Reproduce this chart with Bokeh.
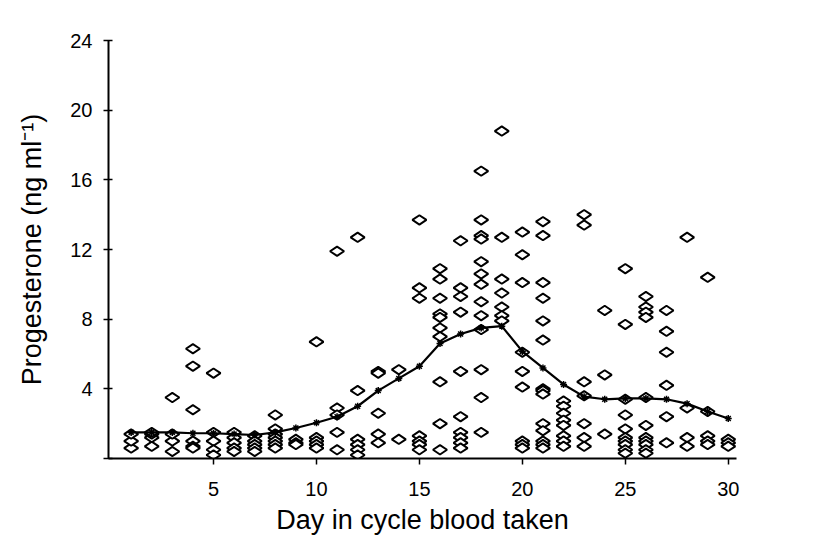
import math
from bokeh.plotting import figure
from bokeh.models import FixedTicker, Range1d
from bokeh.embed import file_html
from bokeh.resources import INLINE

# individual samples: day -> progesterone values (ng/ml)
day_values = {
    1: [0.6, 1.0, 1.4],
    2: [0.7, 1.2, 1.4, 1.5],
    3: [3.5, 1.0, 0.4, 1.4],
    4: [6.3, 5.3, 2.8, 1.0, 0.7, 0.6],
    5: [4.9, 1.5, 1.0, 0.5, 0.2],
    6: [1.5, 1.2, 0.9, 0.6, 0.4],
    7: [1.3, 1.0, 0.8, 0.6, 0.4],
    8: [2.5, 1.7, 1.4, 1.2, 1.0, 0.8, 0.6],
    9: [1.1, 0.9, 0.8],
    10: [6.7, 1.2, 1.0, 0.8, 0.6],
    11: [11.9, 2.9, 2.5, 1.5, 0.5],
    12: [12.7, 3.9, 1.1, 0.8, 0.5, 0.2],
    13: [5.0, 4.9, 2.6, 1.4, 0.9],
    14: [5.1, 1.1],
    15: [13.7, 9.8, 9.2, 1.3, 1.0, 0.8, 0.5],
    16: [10.9, 10.3, 9.2, 8.3, 8.1, 7.5, 7.0, 4.4, 2.0, 0.5],
    17: [12.5, 9.8, 9.3, 8.4, 5.0, 2.4, 1.5, 1.2, 0.9, 0.6],
    18: [16.5, 13.7, 12.8, 12.6, 11.3, 10.6, 10.0, 9.0, 8.2, 7.4, 5.1, 3.5, 1.5],
    19: [18.8, 12.7, 10.3, 9.5, 8.7, 8.2, 7.9],
    20: [13.0, 11.7, 10.1, 6.1, 5.0, 4.1, 1.0, 0.8, 0.6],
    21: [13.6, 12.8, 10.1, 9.2, 7.9, 6.8, 4.0, 3.9, 3.7, 2.0, 1.6, 1.0, 0.8, 0.6],
    22: [3.3, 3.0, 2.6, 2.2, 1.9, 1.3, 1.0, 0.7],
    23: [14.0, 13.4, 4.4, 3.6, 2.0, 1.2, 0.7],
    24: [8.5, 4.8, 1.4],
    25: [10.9, 7.7, 3.4, 2.5, 1.7, 1.2, 1.0, 0.8, 0.5, 0.3],
    26: [9.3, 8.7, 8.4, 8.1, 3.5, 1.9, 1.2, 1.0, 0.8, 0.5, 0.3],
    27: [8.5, 7.3, 6.1, 4.2, 2.4, 0.9],
    28: [12.7, 2.9, 1.2, 0.7],
    29: [10.4, 2.7, 1.3, 1.0, 0.8],
    30: [1.1, 0.9, 0.7],
}

# mean curve
mean_days = list(range(1, 31))
mean_values = [1.5, 1.5, 1.5, 1.45, 1.45, 1.4, 1.35, 1.5, 1.75, 2.05,
               2.4, 3.0, 3.9, 4.6, 5.3, 6.6, 7.15, 7.5, 7.6, 6.15,
               5.2, 4.25, 3.55, 3.4, 3.45, 3.45, 3.4, 3.15, 2.7, 2.3]

x_ticks = [5, 10, 15, 20, 25, 30]
y_ticks = [0, 4, 8, 12, 16, 20, 24]

pts_x = [d for d, vs in day_values.items() for _ in vs]
pts_y = [v for d, vs in day_values.items() for v in vs]

FONT = "Liberation Sans"

p = figure(width=806, height=537, output_backend="svg", toolbar_location=None,
           x_range=Range1d(-0.1, 30.4), y_range=Range1d(0, 24),
           min_border_left=108, min_border_right=70,
           min_border_top=40, min_border_bottom=78)
p.outline_line_color = None
p.xgrid.visible = False
p.ygrid.visible = False
p.background_fill_color = "white"
p.border_fill_color = "white"

p.scatter(pts_x, pts_y, marker="diamond", angle=math.pi / 2, size=14,
          fill_color="white", line_color="black", line_width=2)
p.line(mean_days, mean_values, line_color="black", line_width=2.2)
p.scatter(mean_days, mean_values, marker="asterisk", size=7,
          line_color="black", line_width=1.5)

xa = p.xaxis[0]
xa.ticker = FixedTicker(ticks=x_ticks)
xa.minor_tick_line_color = None
xa.major_tick_out = 6
xa.major_tick_in = 0
xa.axis_line_width = 2
xa.major_tick_line_width = 1.5
xa.major_label_text_font = FONT
xa.major_label_text_font_size = "20px"
xa.major_label_text_color = "black"
xa.major_label_standoff = 17
xa.axis_label = "Day in cycle blood taken"
xa.axis_label_text_font = FONT
xa.axis_label_text_font_size = "27px"
xa.axis_label_text_font_style = "normal"
xa.axis_label_text_color = "black"
xa.axis_label_standoff = 6

ya = p.yaxis[0]
ya.ticker = FixedTicker(ticks=y_ticks)
ya.minor_tick_line_color = None
ya.major_tick_out = 5
ya.major_tick_in = 4
ya.axis_line_width = 2
ya.major_tick_line_width = 1.5
ya.major_label_overrides = {0: ""}
ya.major_label_text_font = FONT
ya.major_label_text_font_size = "20px"
ya.major_label_text_color = "black"
ya.major_label_standoff = 11
ya.axis_label = "Progesterone (ng ml\u207b\u00b9)"
ya.axis_label_text_font = FONT
ya.axis_label_text_font_size = "27px"
ya.axis_label_text_font_style = "normal"
ya.axis_label_text_color = "black"
ya.axis_label_standoff = 20

open("out.html", "w").write(file_html(p, INLINE))
